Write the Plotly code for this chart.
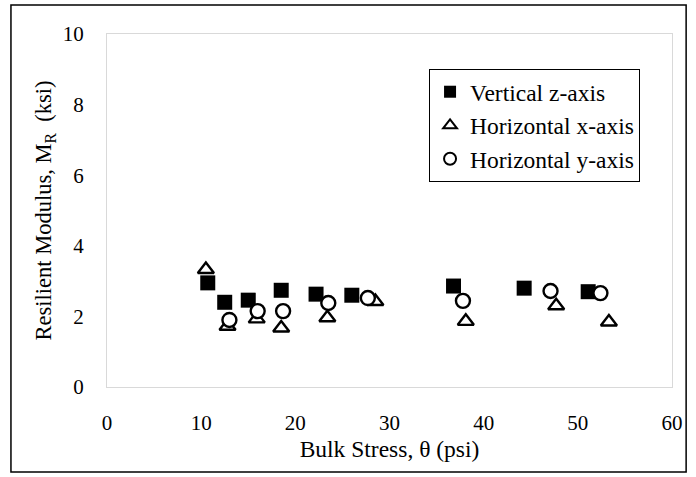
import plotly.graph_objects as go

# bulk stress (psi) and resilient modulus (ksi)
z_stress = [10.7, 12.5, 15.0, 18.5, 22.2, 26.0, 36.8, 44.3, 51.1]
z_modulus = [2.95, 2.40, 2.46, 2.74, 2.63, 2.60, 2.86, 2.80, 2.70]

x_stress = [10.5, 12.8, 15.9, 18.5, 23.4, 28.5, 38.1, 47.7, 53.3]
x_modulus = [3.33, 1.72, 1.93, 1.67, 1.96, 2.42, 1.86, 2.30, 1.84]

y_stress = [13.0, 16.0, 18.7, 23.5, 27.7, 37.8, 47.1, 52.4]
y_modulus = [1.90, 2.15, 2.15, 2.38, 2.52, 2.44, 2.72, 2.66]

x_ticks = [0, 10, 20, 30, 40, 50, 60]
y_ticks = [0, 2, 4, 6, 8, 10]

serif = "Liberation Serif, Times New Roman, serif"

fig = go.Figure()

# vertical z-axis: filled black squares
fig.add_scatter(x=z_stress, y=z_modulus, mode="markers", name="Vertical z-axis",
                marker=dict(symbol="square", size=15, color="black"))

# horizontal x-axis: open triangles
fig.add_scatter(x=x_stress, y=x_modulus, mode="markers", name="Horizontal x-axis",
                marker=dict(symbol="triangle-up", size=14, color="white",
                            line=dict(color="black", width=2.4)))

# horizontal y-axis: open circles
fig.add_scatter(x=y_stress, y=y_modulus, mode="markers", name="Horizontal y-axis",
                marker=dict(symbol="circle", size=14, color="white",
                            line=dict(color="black", width=2.4)))

fig.update_layout(
    width=696, height=477,
    margin=dict(l=107, r=24, t=34, b=90),
    paper_bgcolor="white", plot_bgcolor="white",
    font=dict(family=serif, size=21, color="black"),
    legend=dict(x=0.57, y=0.901, xanchor="left", yanchor="top",
                bordercolor="black", borderwidth=1, bgcolor="white",
                font=dict(family=serif, size=23.5), tracegroupgap=0,
                itemwidth=30, itemsizing="constant"),
    showlegend=True,
)

fig.update_xaxes(range=[0, 60], tickvals=x_ticks, showgrid=False, zeroline=False,
                 showline=True, mirror=True, linecolor="#d9d9d9", linewidth=1,
                 ticks="", ticklabelstandoff=17,
                 title=dict(text="Bulk Stress, θ (psi)", font=dict(size=23.5), standoff=6))

fig.update_yaxes(range=[0, 10], tickvals=y_ticks, showgrid=False, zeroline=False,
                 showline=True, mirror=True, linecolor="#d9d9d9", linewidth=1,
                 ticks="", ticklabelstandoff=18,
                 title=dict(text="Resilient Modulus, M<sub>R</sub>  (ksi)", font=dict(size=22.5), standoff=4))

# outer black frame around the whole chart
fig.add_shape(type="rect", xref="paper", yref="paper",
              x0=-0.170, x1=1.025, y0=-0.241, y1=1.082,
              line=dict(color="black", width=1.5), fillcolor="rgba(0,0,0,0)")

# drop the page's default body margin so the figure sits at the window origin
fig.write_html("out.html", config={"displayModeBar": False},
               post_script="document.body.style.margin='0';")
